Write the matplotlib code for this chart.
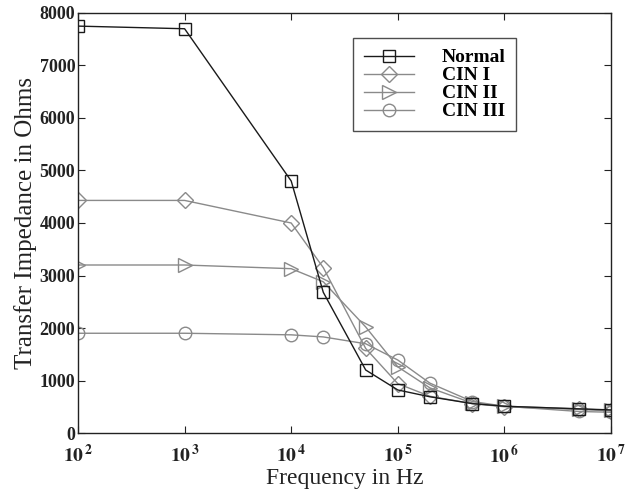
import matplotlib
matplotlib.use("Agg")
import matplotlib.pyplot as plt
from matplotlib.ticker import FixedLocator, FixedFormatter, NullLocator

plt.rcParams['font.family'] = ['Liberation Serif', 'DejaVu Serif']
plt.rcParams['mathtext.fontset'] = 'stix'

freq = [1e2, 1e3, 1e4, 2e4, 5e4, 1e5, 2e5, 5e5, 1e6, 5e6, 1e7]
normal = [7750, 7700, 4800, 2680, 1200, 820, 690, 560, 510, 460, 440]
cin1 = [4430, 4430, 4000, 3150, 1610, 940, 700, 560, 500, 450, 420]
cin2 = [3200, 3200, 3130, 2880, 2020, 1260, 860, 570, 510, 460, 430]
cin3 = [1900, 1900, 1870, 1830, 1700, 1390, 950, 600, 510, 410, 395]

xtick_vals = [1e2, 1e3, 1e4, 1e5, 1e6, 1e7]
xtick_labels = [r'$\mathbf{10^{\,2}}$', r'$\mathbf{10^{\,3}}$', r'$\mathbf{10^{\,4}}$',
                r'$\mathbf{10^{\,5}}$', r'$\mathbf{10^{\,6}}$', r'$\mathbf{10^{\,7}}$']
ytick_vals = [0, 1000, 2000, 3000, 4000, 5000, 6000, 7000, 8000]

fig = plt.figure(figsize=(6.25, 4.92), dpi=100)
ax = fig.add_axes([0.1248, 0.1199, 0.8528, 0.8537])

dark = '#1a1a1a'
gray = '#8a8a8a'
ax.plot(freq, normal, color=dark, lw=1.0, marker='s', ms=9, mfc='none', mec=dark, mew=1.0, label='Normal', zorder=5)
ax.plot(freq, cin1, color=gray, lw=1.0, marker='D', ms=8, mfc='none', mec=gray, mew=1.0, label='CIN I')
ax.plot(freq, cin2, color=gray, lw=1.0, marker='>', ms=10, mfc='none', mec=gray, mew=1.0, label='CIN II')
ax.plot(freq, cin3, color=gray, lw=1.0, marker='o', ms=9, mfc='none', mec=gray, mew=1.0, label='CIN III')

ax.set_xscale('log')
ax.set_xlim(1e2, 1e7)
ax.set_ylim(0, 8000)
ax.xaxis.set_major_locator(FixedLocator(xtick_vals))
ax.xaxis.set_major_formatter(FixedFormatter(xtick_labels))
ax.xaxis.set_minor_locator(NullLocator())
ax.set_yticks(ytick_vals)
ax.set_yticklabels([str(v) for v in ytick_vals], fontweight='bold')
ax.tick_params(axis='both', direction='in', top=True, right=True, length=5, width=0.8, labelsize=13, colors='#222222')
ax.tick_params(axis='x', pad=8, labelsize=14)
ax.tick_params(axis='y', pad=2)
for s in ax.spines.values():
    s.set_linewidth(1.0)
    s.set_color('#222222')

ax.set_xlabel('Frequency in Hz', fontsize=17, color='#222222', labelpad=0)
ax.set_ylabel('Transfer Impedance in Ohms', fontsize=18, color='#222222', labelpad=2)

leg = ax.legend(loc='upper left', bbox_to_anchor=(0.516, 0.94), frameon=True,
                fancybox=False, edgecolor='#222222', handlelength=2.6, borderpad=0.55,
                labelspacing=0.02, handletextpad=1.4, borderaxespad=0,
                prop={'size': 14, 'weight': 'bold'})
leg.get_frame().set_linewidth(1.0)

fig.savefig('out.png', dpi=100)
